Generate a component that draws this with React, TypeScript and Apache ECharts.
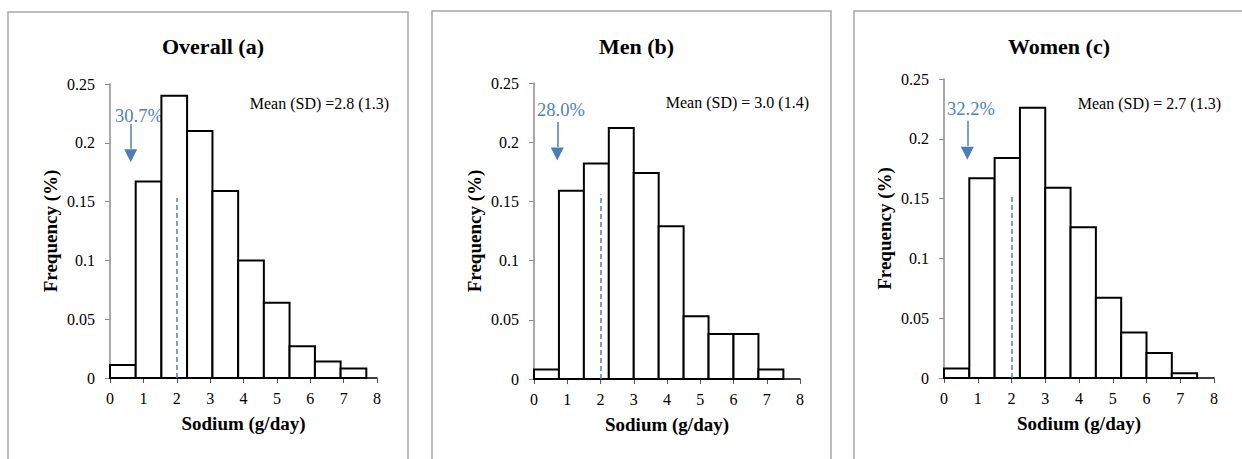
import React, { useEffect, useRef } from "react";
import * as echarts from "echarts";

// ---- data ----
const overallEdges = [0, 0.77, 1.54, 2.31, 3.07, 3.84, 4.61, 5.38, 6.14, 6.91, 7.68];
const overallFreq = [0.011, 0.167, 0.24, 0.21, 0.159, 0.1, 0.064, 0.027, 0.014, 0.008];
const menEdges = [0, 0.75, 1.5, 2.25, 3.0, 3.75, 4.5, 5.25, 6.0, 6.75, 7.5];
const menFreq = [0.008, 0.159, 0.182, 0.212, 0.174, 0.129, 0.053, 0.038, 0.038, 0.008];
const womenEdges = [0, 0.75, 1.5, 2.25, 3.0, 3.75, 4.5, 5.25, 6.0, 6.75, 7.5];
const womenFreq = [0.008, 0.167, 0.184, 0.226, 0.159, 0.126, 0.067, 0.038, 0.021, 0.004];

const titles = ["Overall (a)", "Men (b)", "Women (c)"];
const meanLabels = ["Mean (SD) =2.8 (1.3)", "Mean (SD) = 3.0 (1.4)", "Mean (SD) = 2.7 (1.3)"];
const belowLabels = ["30.7%", "28.0%", "32.2%"];
const cutoff = 2; // g/day dashed line
const cutoffTop = [0.153, 0.156, 0.152];
const arrowX = [0.62, 0.7, 0.69];
const arrowTop = [0.216, 0.217, 0.215];
const arrowHeadTop = [0.195, 0.196, 0.194];
const arrowHeadMid = [0.189, 0.19, 0.188];

const yTicks = { min: 0, max: 0.25, interval: 0.05 };
const xTicks = { min: 0, max: 8, interval: 1 };

const xAxisName = "Sodium (g/day)";
const yAxisName = "Frequency (%)";

const SERIF = '"Liberation Serif", "Times New Roman", serif';
const BLUE = "#4a7ebb";

// layout (pixels)
const frames = [
  { x: 8, y: 12, w: 400 },
  { x: 432, y: 11, w: 399 },
  { x: 854, y: 11, w: 400 },
];
const grids = [
  { left: 110, top: 84, width: 267, height: 294 },
  { left: 534, top: 83, width: 266, height: 296 },
  { left: 944, top: 79, width: 270, height: 299 },
];
const pctPos = [
  { x: 115, y: 116 },
  { x: 537, y: 110 },
  { x: 947, y: 109 },
];
const meanPos = [
  { x: 389, y: 103 },
  { x: 809, y: 102 },
  { x: 1221, y: 103 },
];

export default function App() {
  const ref = useRef<HTMLDivElement>(null);
  useEffect(() => {
    if (!ref.current) return;
    const chart = echarts.init(ref.current, null, { renderer: "svg" });
    const edgesList = [overallEdges, menEdges, womenEdges];
    const freqList = [overallFreq, menFreq, womenFreq];

    const renderItem = (params: any, api: any) => {
      const s = api.coord([api.value(0), api.value(2)]);
      const e = api.coord([api.value(1), 0]);
      return {
        type: "rect",
        shape: { x: s[0], y: s[1], width: e[0] - s[0], height: e[1] - s[1] },
        style: { fill: "#ffffff", stroke: "#000000", lineWidth: 2 },
      };
    };

    const series: any[] = edgesList.map((edges, i) => ({
      type: "custom",
      xAxisIndex: i,
      yAxisIndex: i,
      renderItem,
      encode: { x: [0, 1], y: 2 },
      data: freqList[i].map((f, k) => [edges[k], edges[k + 1], f]),
      z: 2,
      markLine: {
        silent: true,
        symbol: ["none", "none"],
        label: { show: false },
        z: 3,
        data: [
          [
            { coord: [cutoff, 0], lineStyle: { color: BLUE, width: 1.5, type: [5, 3] } },
            { coord: [cutoff, cutoffTop[i]] },
          ],
          [
            { coord: [arrowX[i], arrowTop[i]], lineStyle: { color: BLUE, width: 1.5, type: "solid" } },
            { coord: [arrowX[i], arrowHeadTop[i]] },
          ],
        ],
      },
      markPoint: {
        silent: true,
        z: 3,
        label: { show: false },
        itemStyle: { color: BLUE },
        data: [
          {
            coord: [arrowX[i], arrowHeadMid[i]],
            symbol: "triangle",
            symbolRotate: 180,
            symbolSize: [13, 13],
          },
        ],
      },
    }));

    const graphic: any[] = [];
    frames.forEach((f) => {
      graphic.push({
        type: "rect",
        shape: { x: f.x, y: f.y, width: f.w, height: 480 },
        style: { fill: "none", stroke: "#a6a6a6", lineWidth: 1.5 },
        z: 0,
        silent: true,
      });
    });
    belowLabels.forEach((t, i) => {
      graphic.push({
        type: "text",
        x: pctPos[i].x,
        y: pctPos[i].y,
        z: 1,
        style: { text: t, font: `18.5px ${SERIF}`, fill: "#4f81bd", align: "left", verticalAlign: "middle" },
      });
      graphic.push({
        type: "text",
        x: meanPos[i].x,
        y: meanPos[i].y,
        z: 1,
        style: { text: meanLabels[i], font: `16px ${SERIF}`, fill: "#000", align: "right", verticalAlign: "middle" },
      });
    });

    chart.setOption({
      animation: false,
      backgroundColor: "#ffffff",
      title: titles.map((t, i) => ({
        text: t,
        left: frames[i].x + frames[i].w / 2,
        top: 30,
        textAlign: "center",
        textStyle: { fontFamily: SERIF, fontWeight: "bold", fontSize: 22, color: "#000" },
      })),
      grid: grids.map((g) => ({ ...g, containLabel: false })),
      xAxis: grids.map((_, i) => ({
        type: "value",
        gridIndex: i,
        min: xTicks.min,
        max: xTicks.max,
        interval: xTicks.interval,
        name: xAxisName,
        nameLocation: "middle",
        nameGap: 36,
        nameTextStyle: { fontFamily: SERIF, fontWeight: "bold", fontSize: 19, color: "#000" },
        axisLine: { show: true, onZero: false, lineStyle: { color: "#000", width: 1.5 } },
        axisTick: { show: true, length: 5, lineStyle: { color: "#555", width: 1 } },
        axisLabel: { fontFamily: SERIF, fontSize: 16, color: "#000", margin: 12 },
        splitLine: { show: false },
      })),
      yAxis: grids.map((_, i) => ({
        type: "value",
        gridIndex: i,
        min: yTicks.min,
        max: yTicks.max,
        interval: yTicks.interval,
        name: yAxisName,
        nameLocation: "middle",
        nameGap: 50,
        nameTextStyle: { fontFamily: SERIF, fontWeight: "bold", fontSize: 19, color: "#000" },
        axisLine: { show: true, lineStyle: { color: "#8c8c8c", width: 1.5 } },
        axisTick: { show: true, length: 5, lineStyle: { color: "#8c8c8c", width: 1 } },
        axisLabel: { fontFamily: SERIF, fontSize: 16, color: "#000", margin: 15 },
        splitLine: { show: false },
      })),
      graphic,
      series,
    });
    return () => chart.dispose();
  }, []);
  return (
    <div
      ref={ref}
      style={{ position: "absolute", left: 0, top: 0, width: 1242, height: 459, background: "#fff" }}
    />
  );
}
